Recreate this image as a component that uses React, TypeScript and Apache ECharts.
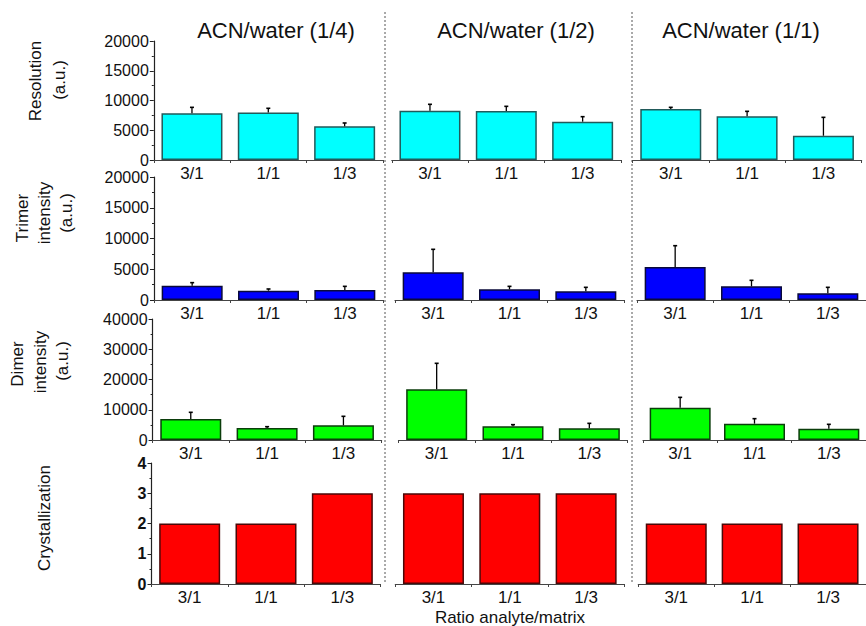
import React, { useEffect, useRef } from "react";
import * as echarts from "echarts";

// ---- data ----
const categories = ["3/1", "1/1", "1/3"];
const solvents = ["ACN/water (1/4)", "ACN/water (1/2)", "ACN/water (1/1)"];

// each inner array: values for 3/1, 1/1, 1/3 ; outer: solvent (1/4, 1/2, 1/1)
const resolutionMean = [
  [7850, 8000, 5660],
  [8290, 8230, 6440],
  [8570, 7340, 4080],
];
const resolutionErr = [
  [1000, 690, 560],
  [1070, 790, 840],
  [280, 840, 3090],
];
const trimerMean = [
  [2330, 1510, 1630],
  [4500, 1730, 1410],
  [5370, 2220, 1080],
];
const trimerErr = [
  [490, 280, 590],
  [3740, 490, 650],
  [3460, 980, 980],
];
const dimerMean = [
  [6940, 3970, 4850],
  [16750, 4520, 3860],
  [10690, 5400, 3740],
];
const dimerErr = [
  [2210, 430, 2980],
  [8600, 550, 1650],
  [3410, 1650, 1440],
];
const crystallization = [
  [2, 2, 3],
  [3, 3, 3],
  [2, 2, 2],
];

const yTicksResolution = [0, 5000, 10000, 15000, 20000];
const yTicksTrimer = [0, 5000, 10000, 15000, 20000];
const yTicksDimer = [0, 10000, 20000, 30000, 40000];
const yTicksCryst = [0, 1, 2, 3, 4];

const xAxisTitle = "Ratio analyte/matrix";

const FONT = "'Liberation Sans', Arial, Helvetica, sans-serif";

export default function App() {
  const ref = useRef<HTMLDivElement>(null);

  useEffect(() => {
    document.body.style.margin = "0";
    if (!ref.current) return;
    const chart = echarts.init(ref.current, undefined, { renderer: "svg" });

    const rows = [
      {
        names: [
          { t: "Resolution", x: 35, y: 81 },
          { t: "(a.u.)", x: 59, y: 80 },
        ],
        ticks: yTicksResolution,
        mean: resolutionMean,
        err: resolutionErr,
        color: "#00FFFF",
        border: "#215a5a",
        top: 41,
        height: 119,
        lefts: [153.8, 391.8, 632.6],
        bold: false,
      },
      {
        names: [
          { t: "Trimer", x: 22, y: 218 },
          { t: "intensity", x: 44, y: 213 },
          { t: "(a.u.)", x: 66, y: 213 },
        ],
        ticks: yTicksTrimer,
        mean: trimerMean,
        err: trimerErr,
        color: "#0000FF",
        border: "#0a0a3a",
        top: 177,
        height: 123,
        lefts: [154, 395, 637],
        bold: false,
      },
      {
        names: [
          { t: "Dimer", x: 17, y: 364 },
          { t: "intensity", x: 40, y: 362 },
          { t: "(a.u.)", x: 62, y: 361 },
        ],
        ticks: yTicksDimer,
        mean: dimerMean,
        err: dimerErr,
        color: "#00FF00",
        border: "#0b3d0b",
        top: 319,
        height: 121,
        lefts: [152.6, 398.5, 643],
        bold: false,
      },
      {
        names: [{ t: "Crystallization", x: 44, y: 518 }],
        ticks: yTicksCryst,
        mean: crystallization,
        err: null as number[][] | null,
        color: "#FF0000",
        border: "#4a0808",
        top: 463,
        height: 121,
        lefts: [151.5, 395.3, 638.3],
        bold: true,
      },
    ];

    const grid: any[] = [];
    const xAxis: any[] = [];
    const yAxis: any[] = [];
    const series: any[] = [];
    const graphic: any[] = [];

    rows.forEach((row, r) => {
      const ymin = row.ticks[0];
      const ymax = row.ticks[row.ticks.length - 1];
      const interval = row.ticks[1] - row.ticks[0];
      for (let c = 0; c < 3; c++) {
        const idx = r * 3 + c;
        grid.push({
          left: row.lefts[c],
          top: row.top,
          width: 229,
          height: row.height,
          containLabel: false,
        });
        xAxis.push({
          type: "category",
          gridIndex: idx,
          data: categories,
          boundaryGap: true,
          axisLine: { show: true, lineStyle: { color: "#444", width: 1.2 } },
          axisTick: { show: true, length: 3, lineStyle: { color: "#444" } },
          axisLabel: {
            color: "#111",
            fontSize: 17,
            lineHeight: 15,
            fontFamily: FONT,
            margin: 6,
          },
          splitLine: { show: false },
        });
        yAxis.push({
          type: "value",
          gridIndex: idx,
          min: ymin,
          max: ymax,
          interval,
          show: c === 0,
          axisLine: { show: c === 0, lineStyle: { color: "#222", width: 1.2 } },
          axisTick: { show: true, length: 4, inside: false, lineStyle: { color: "#222" } },
          minorTick: { show: true, splitNumber: 2, length: 2, lineStyle: { color: "#222" } },
          axisLabel: {
            show: c === 0,
            color: "#111",
            fontSize: 16,
            lineHeight: 14,
            fontFamily: FONT,
            fontWeight: row.bold ? "bold" : "normal",
            margin: 5,
            formatter: (v: number) => String(v),
          },
          splitLine: { show: false },
        });
        series.push({
          type: "bar",
          xAxisIndex: idx,
          yAxisIndex: idx,
          data: row.mean[c],
          barWidth: 61,
          itemStyle: { color: row.color, borderColor: row.border, borderWidth: 1.5 },
          z: 2,
        });
        if (row.err) {
          const errData = row.mean[c].map((m, i) => [i, m, m + (row.err as number[][])[c][i]]);
          series.push({
            type: "custom",
            xAxisIndex: idx,
            yAxisIndex: idx,
            data: errData,
            encode: { x: 0, y: [1, 2] },
            z: 3,
            renderItem: (params: any, api: any) => {
              const xi = api.value(0);
              const p0 = api.coord([xi, api.value(1)]);
              const p1 = api.coord([xi, api.value(2)]);
              return {
                type: "group",
                children: [
                  {
                    type: "line",
                    shape: { x1: p0[0], y1: p0[1], x2: p1[0], y2: p1[1] },
                    style: { stroke: "#000", lineWidth: 1.3 },
                  },
                  {
                    type: "line",
                    shape: { x1: p1[0] - 2, y1: p1[1], x2: p1[0] + 2, y2: p1[1] },
                    style: { stroke: "#000", lineWidth: 1.6 },
                  },
                ],
              };
            },
          });
        }
      }
      row.names.forEach((n) => {
        graphic.push({
          type: "text",
          x: n.x,
          y: n.y,
          rotation: Math.PI / 2,
          style: {
            text: n.t,
            fontSize: 17,
            fontFamily: FONT,
            fill: "#111",
            align: "center",
            verticalAlign: "middle",
          },
        });
      });
    });

    const titleX = [276, 516, 741];
    solvents.forEach((s, i) => {
      graphic.push({
        type: "text",
        x: titleX[i],
        y: 30,
        style: {
          text: s,
          fontSize: 22,
          fontFamily: FONT,
          fill: "#111",
          align: "center",
          verticalAlign: "middle",
        },
      });
    });

    [385, 632].forEach((x) => {
      graphic.push({
        type: "line",
        shape: { x1: x, y1: 12, x2: x, y2: 584 },
        style: { stroke: "#555", lineWidth: 1, lineDash: [2, 2] },
      });
    });

    graphic.push({
      type: "text",
      x: 510,
      y: 617,
      style: {
        text: xAxisTitle,
        fontSize: 17,
        fontFamily: FONT,
        fill: "#111",
        align: "center",
        verticalAlign: "middle",
      },
    });

    chart.setOption({
      animation: false,
      backgroundColor: "#fff",
      grid,
      xAxis,
      yAxis,
      series,
      graphic,
    });

    return () => chart.dispose();
  }, []);

  return <div ref={ref} style={{ width: 866, height: 626 }} />;
}
